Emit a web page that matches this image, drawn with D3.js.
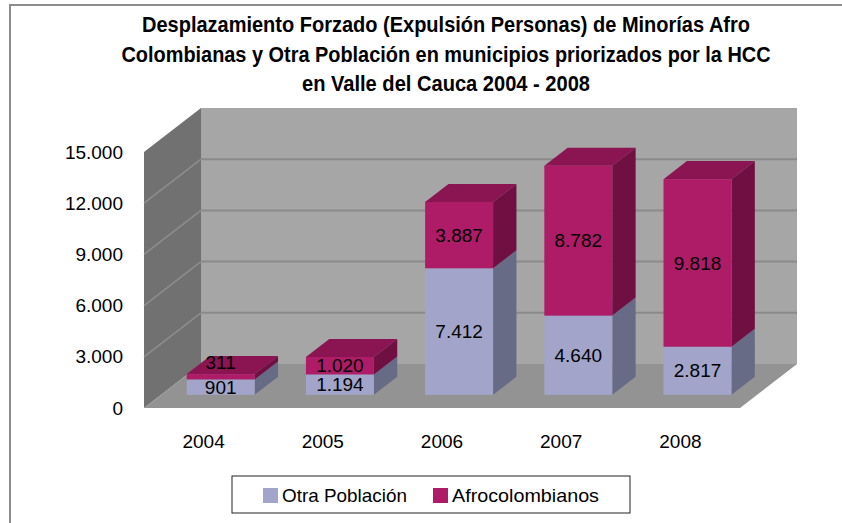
<!DOCTYPE html>
<html>
<head>
<meta charset="utf-8">
<script src="https://cdn.jsdelivr.net/npm/d3@7"></script>
<style>
  body { margin: 0; background: #fff; }
  text { font-family: "Liberation Sans", Arial, sans-serif; fill: #000; }
  .title { font-family: "Liberation Sans Narrow", "Arial Narrow", "Liberation Sans", sans-serif; font-weight: bold; font-size: 22px; }
</style>
</head>
<body>
<div id="chart"></div>
<script>
// data
let years = ['2004', '2005', '2006', '2007', '2008']
let otra = [901, 1194, 7412, 4640, 2817]
let afro = [311, 1020, 3887, 8782, 9818]
let seriesNames = ['Otra Población', 'Afrocolombianos']
let yTicks = [0, 3000, 6000, 9000, 12000, 15000]
let titleLines = [
    'Desplazamiento Forzado (Expulsión Personas) de Minorías Afro',
    'Colombianas y Otra Población en municipios priorizados por la HCC',
    'en Valle del Cauca 2004  - 2008'
]

function makeChart(){
    let width = 842, height = 523

    let svg = d3.select('#chart')
                .append('svg')
                    .attr('width', width)
                    .attr('height', height)

    // outer frame (only top and left show in the window)
    svg.append('path')
        .attr('d', 'M10,523 L10,5 L842,5')
        .attr('fill', 'none')
        .attr('stroke', '#8c8c8c')
        .attr('stroke-width', 2)

    // title
    let titleWidths = [608, 649, 288]
    svg.selectAll('.title')
        .data(titleLines)
        .enter()
        .append('text')
        .attr('class', 'title')
        .attr('x', 446)
        .attr('y', (d, i) => 32 + i * 29.5)
        .attr('text-anchor', 'middle')
        .attr('textLength', (d, i) => titleWidths[i])
        .attr('lengthAdjust', 'spacingAndGlyphs')
        .text(d => d)

    // front plane scales + depth vector for the 3d look
    let x = d3.scaleBand().domain(years).range([144, 740])
    let y = d3.scaleLinear().domain([0, 15000]).range([408, 152])
    let dx = 57, dy = -44
    let z0 = 0.3, z1 = 0.71
    let barW = x.bandwidth() * 0.57

    let pts = p => p.map(q => q.join(',')).join(' ')
    let x0 = x.range()[0], x1 = x.range()[1]
    let yb = y(0), yt = y(15000)

    // back wall
    svg.append('polygon')
        .attr('points', pts([[x0+dx, yt+dy], [x1+dx, yt+dy], [x1+dx, yb+dy], [x0+dx, yb+dy]]))
        .attr('fill', '#a6a6a6')
    // side wall
    svg.append('polygon')
        .attr('points', pts([[x0, yt], [x0+dx, yt+dy], [x0+dx, yb+dy], [x0, yb]]))
        .attr('fill', '#717171')
    // floor
    svg.append('polygon')
        .attr('points', pts([[x0, yb], [x1, yb], [x1+dx, yb+dy], [x0+dx, yb+dy]]))
        .attr('fill', '#939393')

    // gridlines on back and side walls
    svg.selectAll('.gridback')
        .data(yTicks.slice(1, -1))
        .enter()
        .append('line')
        .attr('x1', x0+dx).attr('x2', x1+dx)
        .attr('y1', d => y(d)+dy).attr('y2', d => y(d)+dy)
        .attr('stroke', '#8a8a8a')
        .attr('stroke-width', 2)
    svg.selectAll('.gridside')
        .data(yTicks.slice(1, -1))
        .enter()
        .append('line')
        .attr('x1', x0).attr('x2', x0+dx)
        .attr('y1', d => y(d)).attr('y2', d => y(d)+dy)
        .attr('stroke', '#8d8d8d')
        .attr('stroke-width', 1.5)

    // y axis labels
    svg.selectAll('.ytick')
        .data(yTicks)
        .enter()
        .append('text')
        .attr('x', 123)
        .attr('y', d => y(d))
        .attr('dy', '0.35em')
        .attr('text-anchor', 'end')
        .style('font-size', '19px')
        .text(d => d3.format(',')(d).replace(/,/g, '.'))

    // bars
    let colors = [
        {front: '#a2a5c9', side: '#676b86', top: '#8a8db0'},
        {front: '#ae1b67', side: '#701042', top: '#8a1552'}
    ]
    let labels = []
    years.forEach((yr, i) => {
        let left = x(yr) + (x.bandwidth() - barW) / 2 + z0 * dx
        let right = left + barW
        let ox = (z1 - z0) * dx, oy = (z1 - z0) * dy
        let vals = [otra[i], afro[i]]
        let base = 0
        let prevLabel = null
        vals.forEach((v, s) => {
            let yBot = y(base) + z0 * dy
            let yTop = y(base + v) + z0 * dy
            let c = colors[s]
            svg.append('polygon')
                .attr('points', pts([[left, yTop], [right, yTop], [right+ox, yTop+oy], [left+ox, yTop+oy]]))
                .attr('fill', c.top)
            svg.append('polygon')
                .attr('points', pts([[right, yBot], [right, yTop], [right+ox, yTop+oy], [right+ox, yBot+oy]]))
                .attr('fill', c.side)
            svg.append('rect')
                .attr('x', left)
                .attr('y', yTop)
                .attr('width', barW)
                .attr('height', yBot - yTop)
                .attr('fill', c.front)
            // label in middle of front face, pushed up if it hits the one below
            let ly = (yTop + yBot) / 2
            if (prevLabel !== null && prevLabel - ly < 18) ly = prevLabel - 25
            labels.push({x: (left + right) / 2, y: ly, v: v})
            prevLabel = ly
            base += v
        })
    })

    svg.selectAll('.vlabel')
        .data(labels)
        .enter()
        .append('text')
        .attr('x', d => d.x)
        .attr('y', d => d.y)
        .attr('dy', '0.35em')
        .attr('text-anchor', 'middle')
        .style('font-size', '19px')
        .text(d => d3.format(',')(d.v).replace(/,/g, '.'))

    // category labels on the front edge
    svg.selectAll('.xlabel')
        .data(years)
        .enter()
        .append('text')
        .attr('x', d => x(d) + x.bandwidth() / 2)
        .attr('y', 441)
        .attr('dy', '0.35em')
        .attr('text-anchor', 'middle')
        .style('font-size', '19px')
        .text(d => d)

    // legend
    svg.append('rect')
        .attr('x', 232).attr('y', 476)
        .attr('width', 398).attr('height', 37)
        .attr('fill', '#fff')
        .attr('stroke', '#222')
        .attr('stroke-width', 1)
    let legX = [263, 433], legW = [125, 147]
    seriesNames.forEach((name, s) => {
        svg.append('rect')
            .attr('x', legX[s]).attr('y', 488)
            .attr('width', 15).attr('height', 15)
            .attr('fill', colors[s].front)
        svg.append('text')
            .attr('x', legX[s] + 19)
            .attr('y', 495.5)
            .attr('dy', '0.35em')
            .attr('textLength', legW[s])
            .attr('lengthAdjust', 'spacingAndGlyphs')
            .style('font-size', '19px')
            .text(name)
    })
}

makeChart()
</script>
</body>
</html>
